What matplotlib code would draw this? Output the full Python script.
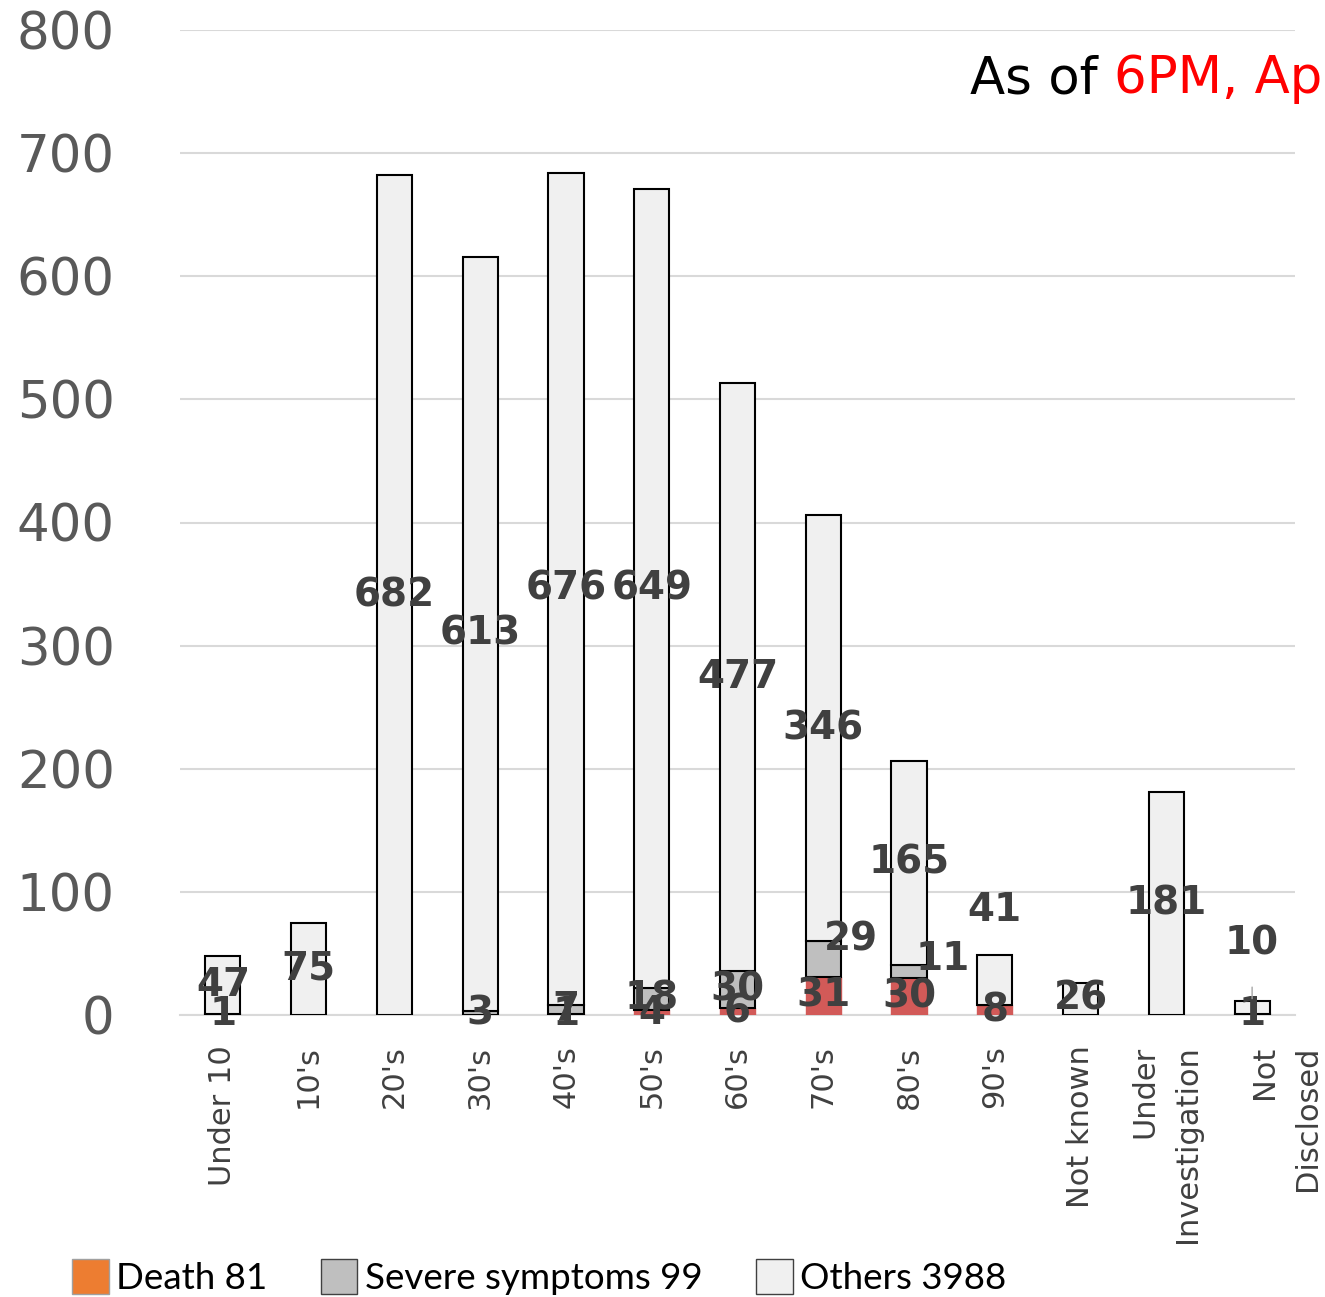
import numpy as np
import matplotlib
matplotlib.use("Agg")
import matplotlib.pyplot as plt
from matplotlib.patches import Patch
from matplotlib.transforms import ScaledTranslation

categories = ["Under 10", "10's", "20's", "30's", "40's", "50's", "60's",
              "70's", "80's", "90's", "Not known", "Under\nInvestigation",
              "Not\nDisclosed"]
death = [0, 0, 0, 0, 1, 4, 6, 31, 30, 8, 0, 0, 0]
severe = [1, 0, 0, 3, 7, 18, 30, 29, 11, 0, 0, 0, 1]
others = [47, 75, 682, 613, 676, 649, 477, 346, 165, 41, 26, 181, 10]
legend_labels = ["Death 81", "Severe symptoms 99", "Others 3988"]
title_black = "As of "
title_red = "6PM, April"

c_death = "#d25a58"
c_death_leg = "#ed7d31"
c_severe = "#bfbfbf"
c_others = "#f0f0f0"
lab_col = "#404040"

fig = plt.figure(figsize=(13.25, 12.97), dpi=100)
ax = fig.add_axes([180 / 1325, 1 - 1015 / 1297, 1115 / 1325, 985 / 1297])

x = np.arange(len(categories))
death = np.array(death)
severe = np.array(severe)
others = np.array(others)
w = 0.41

b1 = ax.bar(x, death, w, color=c_death, edgecolor=c_death, lw=1, zorder=3)
b2 = ax.bar(x, severe, w, bottom=death, color=c_severe, edgecolor="black",
            lw=1.5, zorder=3)
b3 = ax.bar(x, others, w, bottom=death + severe, color=c_others,
            edgecolor="black", lw=1.5, zorder=3)

lab_kw = dict(label_type="center", fontsize=28, fontweight="bold",
              color=lab_col, zorder=5)
ax.bar_label(b1, labels=[str(v) if v else "" for v in death], **lab_kw)
sev_anns = ax.bar_label(b2, labels=[str(v) if v else "" for v in severe], **lab_kw)
oth_labels = [str(v) for v in others]
oth_labels[-1] = ""
oth_anns = ax.bar_label(b3, labels=oth_labels, **lab_kw)

# labels that the original chart moved away from their segment
sev_anns[7].xyann = (20, 14)
sev_anns[8].xyann = (24, 9)
oth_anns[9].xyann = (0, 50)
ax.annotate(str(others[-1]), xy=(x[-1], death[-1] + severe[-1] + others[-1]),
            xytext=(0, 42), textcoords="offset points", ha="center",
            va="center", fontsize=28, fontweight="bold", color=lab_col,
            arrowprops=dict(arrowstyle="-", color="#a6a6a6", lw=1,
                            shrinkA=16, shrinkB=2), zorder=5)

ax.set_xlim(-0.5, len(categories) - 0.5)
ax.set_ylim(0, 800)
ax.set_yticks(np.arange(0, 801, 100))
ax.yaxis.grid(True, color="#d9d9d9", lw=1.5, zorder=0)
ax.set_axisbelow(True)
for s in ["top", "right", "left"]:
    ax.spines[s].set_visible(False)
ax.spines["bottom"].set_color("#d9d9d9")
ax.spines["bottom"].set_linewidth(1.5)
ax.tick_params(axis="y", length=0, pad=47, labelsize=37, labelcolor="#595959")
ax.tick_params(axis="x", length=0, pad=22)
ax.set_xticks(x)
ticklabs = ax.set_xticklabels(categories, rotation=90, fontsize=22,
                              color=lab_col, linespacing=1.6,
                              multialignment="right")
last = ticklabs[-1]
last.set_transform(last.get_transform() +
                   ScaledTranslation(0.34, 0, fig.dpi_scale_trans))

handles = [Patch(facecolor=c_death_leg, edgecolor="#a0a0a0"),
           Patch(facecolor=c_severe, edgecolor="#404040"),
           Patch(facecolor=c_others, edgecolor="#404040")]
fig.legend(handles, legend_labels, loc="lower left",
           bbox_to_anchor=(70 / 1325, 0.0), ncol=3, frameon=False,
           prop={"family": "Lato", "size": 26.5}, handlelength=1.0,
           handleheight=1.1, handletextpad=0.2, columnspacing=1.45,
           borderpad=0.05, borderaxespad=0.0)

t = fig.text(970 / 1325, 1 - 93 / 1297, title_black, fontsize=37,
             color="black", va="baseline")
ax.annotate(title_red, xy=(1, 0), xycoords=t, va="bottom", fontsize=37,
            color="#ff0000", annotation_clip=False)

fig.savefig("out.png", dpi=100)
